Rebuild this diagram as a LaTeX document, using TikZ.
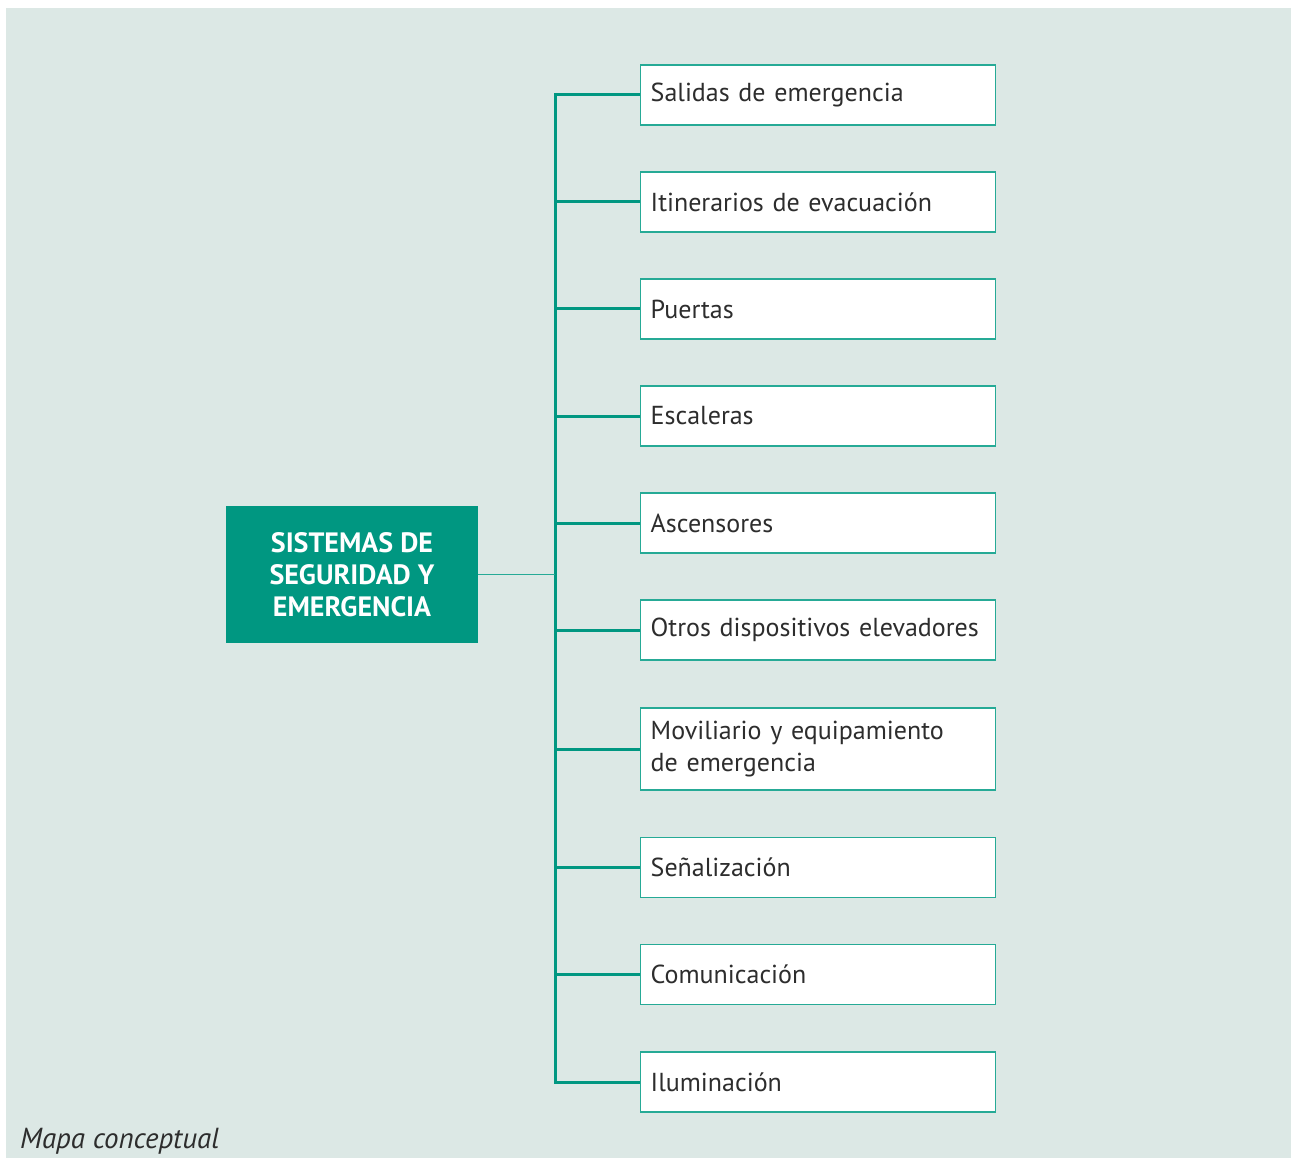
\documentclass[tikz,border=0pt]{standalone}
\usepackage{fontspec}
\setmainfont{PT Sans}
\usetikzlibrary{positioning}
\hyphenpenalty=10000
\definecolor{mapaFondo}{RGB}{220,232,229}
\definecolor{mapaVerde}{RGB}{0,151,129}
\definecolor{mapaBorde}{RGB}{38,170,150}
\definecolor{mapaTexto}{RGB}{45,45,45}
\tikzset{
  caja/.style={draw=mapaBorde,fill=white,line width=1.4pt,anchor=west,
    minimum width=355,inner xsep=10,inner ysep=0,text width=335,align=left,
    text=mapaTexto,font=\fontsize{26}{32}\selectfont},
  rama/.style={draw=mapaVerde,line width=3pt},
  enlace/.style={draw=mapaBorde,line width=1.5pt}
}

\begin{document}
\begin{tikzpicture}[x=1pt,y=-1pt]
  \useasboundingbox (0,0) rectangle (1291,1158);
  \fill[mapaFondo] (6,8) rectangle (1291,1158);
  \def\cajax{640}\def\troncox{555}
  % central box
  \node[fill=mapaVerde,text=white,font=\bfseries\fontsize{28}{32}\selectfont,
    minimum width=252,minimum height=137,inner sep=0,align=center] (sis) at (352,574.5)
    {SISTEMAS DE\\SEGURIDAD Y\\EMERGENCIA};
  \foreach \y/\h/\lab/\n in {95/60/Salidas de emergencia/1,
      202/60/Itinerarios de evacuación/2,
      309/60/Puertas/3,
      416/60/Escaleras/4,
      523/60/Ascensores/5,
      630/60/Otros dispositivos elevadores/6,
      749/82/{Moviliario y equipamiento\\de emergencia}/7,
      867.5/60/Señalización/8,
      974.5/60/Comunicación/9,
      1082/60/Iluminación/10}{
    \node[caja,minimum height=\h] (b\n) at (\cajax,\y) {\lab};
  }
  \coordinate (tronco) at (\troncox,0);
  \draw[rama] (b1.west) -- (b1.west -| tronco) -- (b10.west -| tronco) -- (b10.west);
  \foreach \n in {2,...,9}{
    \draw[rama] (b\n.west) -- (b\n.west -| tronco);
  }
  \draw[enlace] (sis.east) -- (sis.east -| tronco);
  \node[anchor=base west,inner sep=0,text=mapaTexto,font=\itshape\fontsize{29}{29}\selectfont] (pie) at (20,1148) {Mapa conceptual};
\end{tikzpicture}
\end{document}
